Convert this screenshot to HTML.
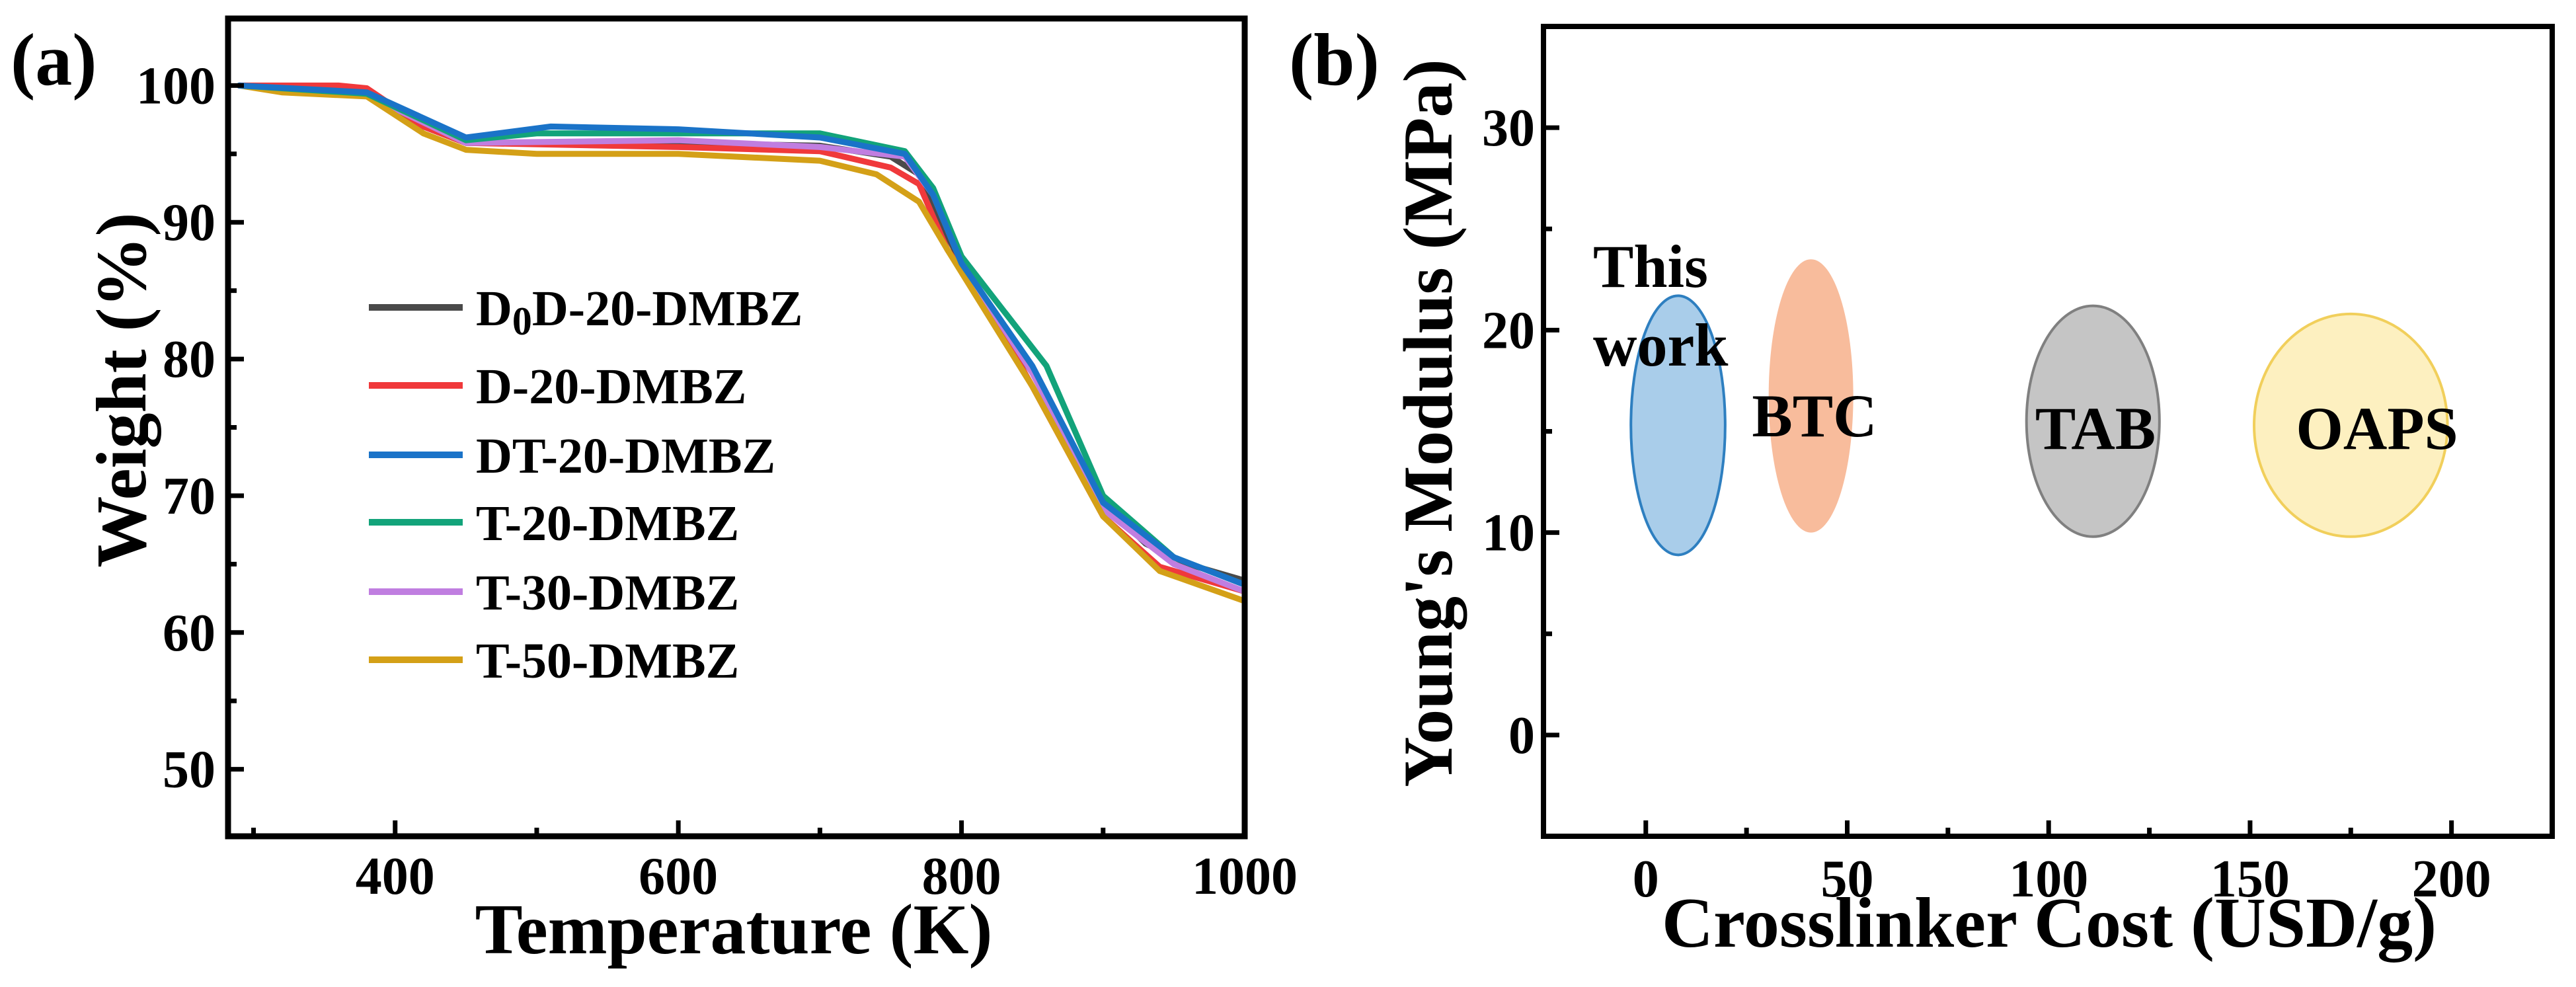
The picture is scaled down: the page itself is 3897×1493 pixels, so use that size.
<!DOCTYPE html>
<html><head><meta charset="utf-8">
<style>
html,body{margin:0;padding:0;background:#fff;}
svg{display:block;font-family:"Liberation Serif",serif;font-weight:bold;}
</style></head>
<body>
<svg id="fig" width="3897" height="1493" viewBox="0 0 3897 1493" xmlns="http://www.w3.org/2000/svg">
<rect width="3897" height="1493" fill="#fff"/>
<g id="pa"></g>
<g id="pb"></g>
</svg>
<script>
const NS="http://www.w3.org/2000/svg";
// ---- Panel (a) data ----
const seriesNames=["D0D-20-DMBZ","D-20-DMBZ","DT-20-DMBZ","T-20-DMBZ","T-30-DMBZ","T-50-DMBZ"];
const seriesColors=["#4a4a4a","#f0393b","#1a73c8","#12a37a","#c07ee0","#d4a017"];
const tempD0D=[290,350,380,420,450,500,600,700,750,770,790,810,850,880,900,930,960,1000];
const wD0D=[100,99.7,99.4,97,95.8,95.8,95.8,95.6,94.8,93.5,89,85,79,73,69.5,66.5,65,63.8];
const tempD=[290,360,380,420,450,600,700,750,770,790,820,850,900,940,1000];
const wD=[100,100,99.8,97,95.8,95.5,95.2,94,92.8,88,83.5,78,68.5,64.8,63];
const tempDT=[290,380,450,510,600,700,760,780,800,850,900,950,1000];
const wDT=[100,99.5,96.2,97,96.8,96.2,95,92,87,79.5,69.5,65.5,63.5];
const tempT20=[290,380,450,500,700,760,780,800,830,860,900,950,1000];
const wT20=[100,99.4,96,96.5,96.5,95.2,92.5,87.5,83.5,79.5,70,65.5,63.5];
const tempT30=[290,380,450,600,700,760,780,800,850,900,950,1000];
const wT30=[100,99.3,95.8,96,95.5,94.8,92,87,79,69,65,63];
const tempT50=[290,320,380,420,450,500,600,700,740,770,790,820,850,900,940,1000];
const wT50=[100,99.5,99.2,96.5,95.3,95,95,94.5,93.5,91.5,88,83,78,68.5,64.5,62.3];
const aXTicks=[400,600,800,1000];
const aYTicks=[50,60,70,80,90,100];
// ---- Panel (b) data ----
const bubbleLabels=["This work","BTC","TAB","OAPS"];
const bubbleCost=[8,41,111,175];
const bubbleModulus=[15.3,16.75,15.5,15.3];
const bubbleCostSpread=[11.7,10.5,16.5,24];
const bubbleModSpread=[6.4,6.75,5.7,5.5];
const bubbleFill=["#a9cdea","#f8bc9c","#c5c5c5","#fdf0c0"];
const bubbleStroke=["#2e7fc0","none","#808080","#f1cf5b"];
const bXTicks=[0,50,100,150,200];
const bYTicks=[0,10,20,30];

function el(tag,attrs,parent,text){const e=document.createElementNS(NS,tag);for(const k in attrs)e.setAttribute(k,attrs[k]);if(text!==undefined)e.textContent=text;parent.appendChild(e);return e;}

// Panel A axes
const A={l:345,r:1883,t:28,b:1265,x0:282,x1:1000,y0:45.1,y1:104.9};
const ax=v=>A.l+(v-A.x0)/(A.x1-A.x0)*(A.r-A.l);
const ay=v=>A.b-(v-A.y0)/(A.y1-A.y0)*(A.b-A.t);
const pa=document.getElementById('pa');
const temps=[tempD0D,tempD,tempDT,tempT20,tempT30,tempT50];
const ws=[wD0D,wD,wDT,wT20,wT30,wT50];
const order=[0,1,4,5,3,2];
order.forEach(i=>{
  const d=temps[i].map((t,j)=>(j?'L':'M')+ax(t).toFixed(1)+' '+ay(ws[i][j]).toFixed(1)).join(' ');
  const p=el('path',{d:d,fill:'none',stroke:seriesColors[i],'stroke-width':9,'stroke-linejoin':'round','stroke-linecap':'round'},pa);
  
  
});
// ticks a
for(let v=300;v<=1000;v+=100){const maj=aXTicks.includes(v);const t=el('line',{x1:ax(v),x2:ax(v),y1:A.b,y2:A.b-(maj?24:13),stroke:'#000','stroke-width':7},pa);}
for(let v=50;v<=100;v+=5){const maj=aYTicks.includes(v);const t=el('line',{x1:A.l,x2:A.l+(maj?24:13),y1:ay(v),y2:ay(v),stroke:'#000','stroke-width':7},pa);}
el('rect',{x:A.l,y:A.t,width:A.r-A.l,height:A.b-A.t,fill:'none',stroke:'#000','stroke-width':9},pa);
aXTicks.forEach(v=>{const t=el('text',{x:ax(v),y:1352,'font-size':80,'text-anchor':'middle'},pa,String(v));});
aYTicks.forEach(v=>{const t=el('text',{x:326,y:ay(v)+27,'font-size':80,'text-anchor':'end'},pa,String(v));});
el('text',{x:1110,y:1442,'font-size':108,'text-anchor':'middle'},pa,'Temperature (K)');
el('text',{x:0,y:0,'font-size':108,'text-anchor':'middle',transform:'translate(220,590) rotate(-90)'},pa,'Weight (%)');
el('text',{x:16,y:128,'font-size':112},pa,'(a)');
// legend
const legY=[465,583,688,790,895,998];
seriesNames.forEach((n,i)=>{
  const g=el('g',{},pa);
  
  
  el('line',{x1:558,x2:700,y1:legY[i],y2:legY[i],stroke:seriesColors[i],'stroke-width':10},g);
  const t=el('text',{x:720,y:legY[i]+27,'font-size':76},g);
  if(i===0){t.appendChild(document.createTextNode('D'));const s=el('tspan',{'font-size':60,dy:14},t,'0');el('tspan',{dy:-14},t,'D-20-DMBZ');}
  else t.textContent=n;
});

// Panel B
const B={l:2335,r:3861,t:40,b:1265,x0:-25.4,x1:225,y0:-5,y1:35};
const bx=v=>B.l+(v-B.x0)/(B.x1-B.x0)*(B.r-B.l);
const by=v=>B.b-(v-B.y0)/(B.y1-B.y0)*(B.b-B.t);
const sx=(B.r-B.l)/(B.x1-B.x0), sy=(B.b-B.t)/(B.y1-B.y0);
const pb=document.getElementById('pb');
bubbleLabels.forEach((n,i)=>{
  const e=el('ellipse',{cx:bx(bubbleCost[i]),cy:by(bubbleModulus[i]),rx:bubbleCostSpread[i]*sx,ry:bubbleModSpread[i]*sy,fill:bubbleFill[i],stroke:bubbleStroke[i],'stroke-width':4},pb);
  
  
});
el('text',{x:2410,y:434,'font-size':92},pb,'This');
el('text',{x:2410,y:553,'font-size':92},pb,'work');
el('text',{x:2745,y:660,'font-size':92,'text-anchor':'middle'},pb,'BTC');
el('text',{x:3170,y:679,'font-size':92,'text-anchor':'middle'},pb,'TAB');
el('text',{x:3596,y:679,'font-size':92,'text-anchor':'middle'},pb,'OAPS');
for(let v=0;v<=200;v+=25){const maj=bXTicks.includes(v);const t=el('line',{x1:bx(v),x2:bx(v),y1:B.b,y2:B.b-(maj?24:13),stroke:'#000','stroke-width':7},pb);}
for(let v=0;v<=30;v+=5){const maj=bYTicks.includes(v);const t=el('line',{x1:B.l,x2:B.l+(maj?24:13),y1:by(v),y2:by(v),stroke:'#000','stroke-width':7},pb);}
el('rect',{x:B.l,y:B.t,width:B.r-B.l,height:B.b-B.t,fill:'none',stroke:'#000','stroke-width':8},pb);
bXTicks.forEach(v=>{const t=el('text',{x:bx(v),y:1356,'font-size':80,'text-anchor':'middle'},pb,String(v));});
bYTicks.forEach(v=>{const t=el('text',{x:2322,y:by(v)+27,'font-size':80,'text-anchor':'end'},pb,String(v));});
el('text',{x:3100,y:1432,'font-size':108,'text-anchor':'middle'},pb,'Crosslinker Cost (USD/g)');
el('text',{x:0,y:0,'font-size':106,'text-anchor':'middle',transform:'translate(2196,640) rotate(-90)'},pb,"Young's Modulus (MPa)");
el('text',{x:1950,y:128,'font-size':112},pb,'(b)');
</script>
</body></html>
